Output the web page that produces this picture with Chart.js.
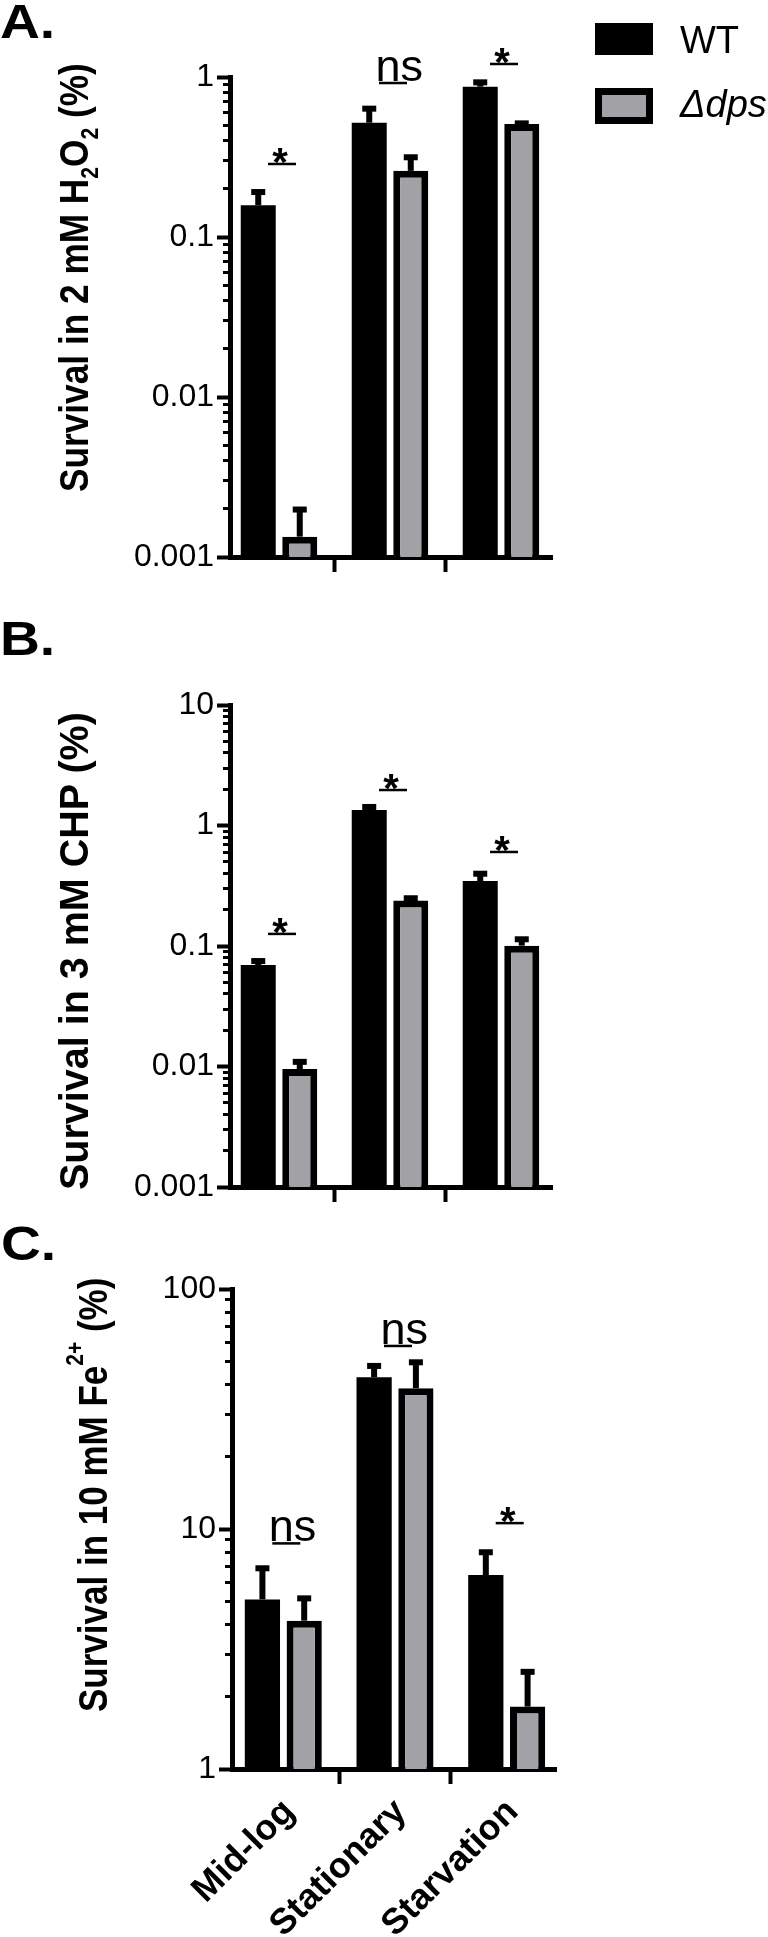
<!DOCTYPE html>
<html><head><meta charset="utf-8">
<style>
html,body{margin:0;padding:0;background:#fff;}
body{width:768px;height:1937px;position:relative;overflow:hidden;}
canvas{position:absolute;left:0;}
.t{position:absolute;white-space:nowrap;line-height:1;color:#000;font-family:'Liberation Sans',Arial,sans-serif;}
.sb{font-size:24px;vertical-align:-10px;line-height:0;}
.sp{font-size:24px;vertical-align:24px;line-height:0;}
</style>
<script src="https://cdn.jsdelivr.net/npm/chart.js@4.4.1/dist/chart.umd.min.js"></script>
</head><body>
<canvas id="cA" width="768" height="600" style="top:0px"></canvas>
<canvas id="cB" width="768" height="620" style="top:600px"></canvas>
<canvas id="cC" width="768" height="717" style="top:1220px"></canvas>
<script>
// ---------- data ----------
const categories = ['Mid-log', 'Stationary', 'Starvation'];
const seriesNames = ['WT', 'Δdps'];

// A: survival in 2 mM H2O2 (%)
const wtH2O2 = [0.158, 0.518, 0.870];
const wtH2O2Err = [0.033, 0.116, 0.056];
const dpsH2O2 = [0.00134, 0.259, 0.508];
const dpsH2O2Err = [0.00064, 0.056, 0.005];
const sigH2O2 = ['*', 'ns', '*'];
const sigYH2O2 = [0.286, 0.917, 1.206];
const yTicksH2O2 = [0.001, 0.01, 0.1, 1];

// B: survival in 3 mM CHP (%)
const wtCHP = [0.0695, 1.345, 0.346];
const wtCHPErr = [0.0055, 0.08, 0.052];
const dpsCHP = [0.00953, 0.239, 0.1007];
const dpsCHPErr = [0.0014, 0.010, 0.013];
const sigCHP = ['*', '*', '*'];
const sigYCHP = [0.126, 1.97, 0.603];
const yTicksCHP = [0.001, 0.01, 0.1, 1, 10];

// C: survival in 10 mM Fe2+ (%)
const wtFe = [5.09, 42.9, 6.43];
const wtFeErr = [1.77, 4.9, 1.57];
const dpsFe = [4.15, 38.6, 1.82];
const dpsFeErr = [0.99, 10.9, 0.72];
const sigFe = ['ns', 'ns', '*'];
const sigYFe = [8.71, 57.9, 10.58];
const yTicksFe = [1, 10, 100];

// ---------- styles ----------
const GRAY = '#a2a1a6';
const FONT = "'Liberation Sans', Arial, sans-serif";
const NARROW = "'Liberation Sans Narrow', 'Liberation Sans', Arial, sans-serif";
Chart.defaults.font.family = FONT;
Chart.defaults.color = '#000';

function minorTicks(majors) {
  const out = [];
  for (let i = 0; i < majors.length - 1; i++) {
    for (let k = 2; k <= 9; k++) out.push(Number((majors[i] * k).toPrecision(6)));
  }
  return out;
}

const errorBarPlugin = {
  id: 'errorBars',
  afterDatasetsDraw(chart) {
    const ctx = chart.ctx, y = chart.scales.y;
    ctx.save();
    ctx.fillStyle = '#000';
    chart.data.datasets.forEach((ds, di) => {
      const meta = chart.getDatasetMeta(di);
      meta.data.forEach((bar, i) => {
        const top = y.getPixelForValue(ds.data[i] + ds.errors[i]);
        ctx.fillRect(bar.x - 3, top, 6, bar.y - top);
        ctx.fillRect(bar.x - 7, top - 3, 14, 6);
      });
    });
    ctx.restore();
  }
};

const sigPlugin = {
  id: 'sig',
  afterDraw(chart, args, opts) {
    const ctx = chart.ctx, x = chart.scales.x, y = chart.scales.y;
    ctx.save();
    ctx.fillStyle = '#000';
    ctx.textBaseline = 'alphabetic';
    opts.labels.forEach((lab, i) => {
      const cx = x.getPixelForValue(i) + 3;
      const yy = y.getPixelForValue(opts.values[i]);
      ctx.fillRect(cx - 14, yy - 1.25, 28, 2.5);
      if (lab === 'ns') {
        ctx.font = '45px ' + NARROW;
        ctx.textAlign = 'left';
        ctx.fillText(lab, cx - 17.5, yy - 2);
      } else {
        ctx.font = 'bold 40px ' + FONT;
        ctx.textAlign = 'center';
        ctx.fillText(lab, cx - 2, yy + 12);
      }
    });
    ctx.restore();
  }
};

function makePanel(p) {
  const yMin = p.yTicks[0], yMax = p.yTicks[p.yTicks.length - 1];
  return new Chart(document.getElementById(p.id), {
    type: 'bar',
    data: {
      labels: categories.map((c, i) => i),
      datasets: [
        { label: seriesNames[0], data: p.wt, errors: p.wtErr, backgroundColor: '#000', borderWidth: 0 },
        { label: seriesNames[1], data: p.dps, errors: p.dpsErr, backgroundColor: GRAY, borderColor: '#000', borderWidth: 7, borderSkipped: 'start' }
      ]
    },
    options: {
      responsive: false, maintainAspectRatio: false, animation: false, devicePixelRatio: 1, events: [],
      layout: { padding: { top: p.padTop, left: 0, right: p.padRight, bottom: 0 } },
      datasets: { bar: { categoryPercentage: 0.748, barPercentage: 0.843 } },
      plugins: {
        legend: { display: false }, tooltip: { enabled: false },
        sig: { labels: p.sig, values: p.sigY }
      },
      scales: {
        x: {
          type: 'linear', min: p.xMin, max: p.xMax, bounds: 'data', offset: false, z: 1,
          afterBuildTicks: ax => { ax.ticks = categories.map((c, i) => ({ value: i })); },
          afterFit: ax => { ax.height = p.xHeight; },
          grid: { display: true, drawOnChartArea: false, drawTicks: true, tickLength: 15, tickWidth: 4, tickColor: '#000', color: '#000' },
          border: { display: true, width: 5, color: '#000' },
          ticks: { display: p.showX, autoSkip: false, maxRotation: 45, minRotation: 45, padding: 7, labelOffset: 6, color: '#000',
                   font: { size: 36, weight: 'bold' }, callback: v => categories[v] }
        },
        y: {
          type: 'logarithmic', min: yMin, max: yMax, bounds: 'data', position: 'left', weight: 1, z: 1,
          afterBuildTicks: ax => { ax.ticks = p.yTicks.map(v => ({ value: v, major: true })); },
          afterFit: ax => { ax.width = p.yWidth; },
          grid: { display: true, drawOnChartArea: false, tickLength: 13, tickWidth: 4, tickColor: '#000' },
          border: { display: true, width: 5, color: '#000' },
          ticks: { autoSkip: false, padding: 3, color: '#000', font: { size: 32 }, callback: v => String(v) }
        },
        yMinor: {
          type: 'logarithmic', min: yMin, max: yMax, bounds: 'data', position: 'left', weight: 0, z: 1,
          afterBuildTicks: ax => { ax.ticks = minorTicks(p.yTicks).map(v => ({ value: v })); },
          afterFit: ax => { ax.width = 0; },
          grid: { display: true, drawOnChartArea: false, tickLength: 7, tickWidth: 3, tickColor: '#000' },
          border: { display: false },
          ticks: { display: false }
        }
      }
    },
    plugins: [errorBarPlugin, sigPlugin]
  });
}

makePanel({ id: 'cA', wt: wtH2O2, wtErr: wtH2O2Err, dps: dpsH2O2, dpsErr: dpsH2O2Err, sig: sigH2O2, sigY: sigYH2O2,
  yTicks: yTicksH2O2, padTop: 77, padRight: 216, yWidth: 230, xMin: -0.4414, xMax: 2.4595, xHeight: 43, showX: false });
makePanel({ id: 'cB', wt: wtCHP, wtErr: wtCHPErr, dps: dpsCHP, dpsErr: dpsCHPErr, sig: sigCHP, sigY: sigYCHP,
  yTicks: yTicksCHP, padTop: 105, padRight: 216, yWidth: 230, xMin: -0.4414, xMax: 2.4595, xHeight: 33, showX: false });
makePanel({ id: 'cC', wt: wtFe, wtErr: wtFeErr, dps: dpsFe, dpsErr: dpsFeErr, sig: sigFe, sigY: sigYFe,
  yTicks: yTicksFe, padTop: 69, padRight: 212, yWidth: 232, xMin: -0.4593, xMax: 2.4413, xHeight: 168, showX: true });

// ---------- HTML text: panel letters, axis titles, legend ----------
function place(html, o) {
  const d = document.createElement('div');
  d.className = 't';
  d.innerHTML = html;
  d.style.fontSize = o.size + 'px';
  d.style.fontWeight = o.weight || 'normal';
  d.style.fontStyle = o.style || 'normal';
  d.style.left = o.left + 'px';
  d.style.top = (o.baseline - 0.8465 * o.size) + 'px';
  if (o.sx) { d.style.transformOrigin = '0 0'; d.style.transform = 'scaleX(' + o.sx + ')'; }
  document.body.appendChild(d);
  return d;
}
function vTitle(html, baselineX, bottomY, topY, size, family) {
  const d = document.createElement('div');
  d.className = 't';
  d.innerHTML = html;
  d.style.fontFamily = family;
  d.style.fontSize = size + 'px';
  d.style.fontWeight = 'bold';
  d.style.left = '0px'; d.style.top = '0px';
  document.body.appendChild(d);
  const w = d.offsetWidth;
  const s = (bottomY - topY) / w;
  d.style.left = (baselineX - 0.8465 * size) + 'px';
  d.style.top = bottomY + 'px';
  d.style.transformOrigin = '0 0';
  d.style.transform = 'rotate(-90deg) scaleX(' + s + ')';
}

place('A.', { left: 0, baseline: 39, size: 48, weight: 'bold', sx: 1.15 });
place('B.', { left: 0, baseline: 656, size: 48, weight: 'bold', sx: 1.15 });
place('C.', { left: 1, baseline: 1261, size: 48, weight: 'bold', sx: 1.15 });

vTitle('Survival in 2 mM H<span class="sb">2</span>O<span class="sb">2</span> (%)', 87.5, 492, 63, 40, NARROW);
vTitle('Survival in 3 mM CHP (%)', 87.5, 1190, 712, 40, FONT);
vTitle('Survival in 10 mM Fe<span class="sp">2+</span> (%)', 106.7, 1712, 1278, 40, NARROW);

// legend
(function () {
  const b1 = document.createElement('div');
  b1.style.cssText = 'position:absolute;left:595px;top:23px;width:58px;height:32px;background:#000;';
  document.body.appendChild(b1);
  const b2 = document.createElement('div');
  b2.style.cssText = 'position:absolute;left:595px;top:88px;width:58px;height:36px;background:' + GRAY + ';border:7px solid #000;box-sizing:border-box;';
  document.body.appendChild(b2);
  place(seriesNames[0], { left: 680, baseline: 53, size: 38 });
  place(seriesNames[1], { left: 680, baseline: 117, size: 38, style: 'italic' });
})();
</script>
</body></html>
